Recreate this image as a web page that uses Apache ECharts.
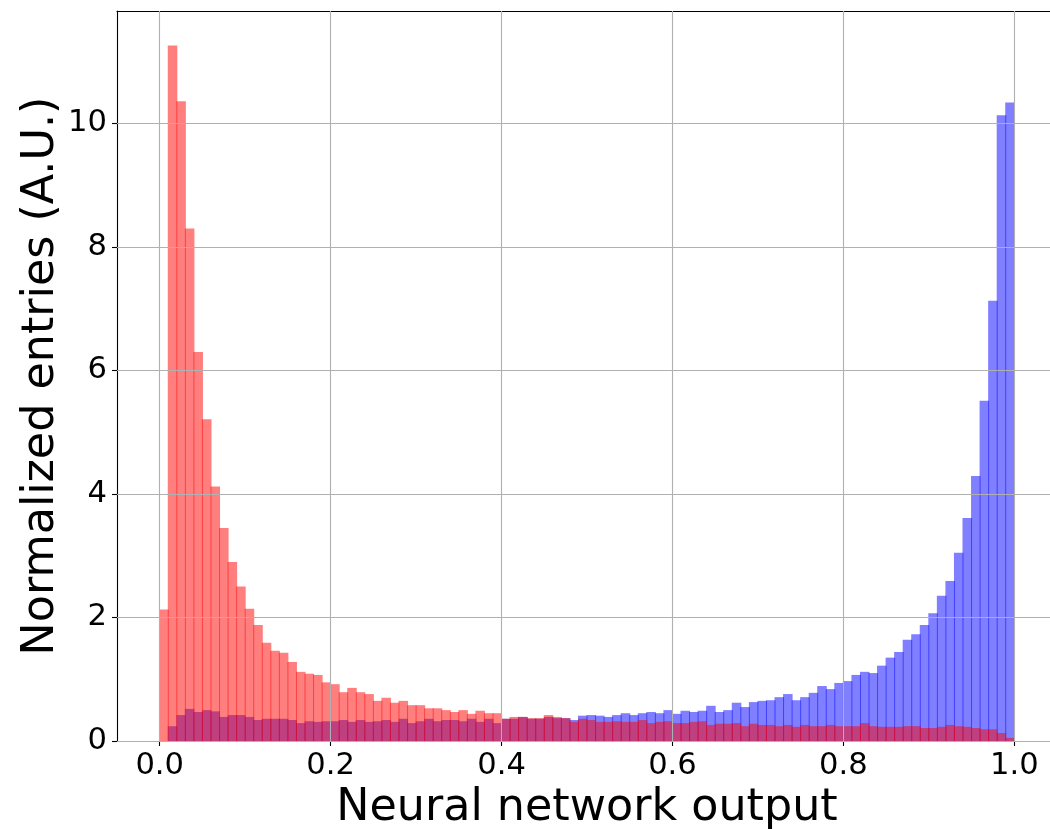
<!DOCTYPE html>
<html>
<head>
<meta charset="utf-8">
<script src="https://cdn.jsdelivr.net/npm/echarts@6/dist/echarts.min.js"></script>
<style>
html,body{margin:0;padding:0;background:#fff;}
#chart{width:1050px;height:829px;}
</style>
</head>
<body>
<div id="chart"></div>
<script>
// Histogram: 100 bins on [0, 1]
const binStart = 0.0;
const binWidth = 0.01;

// Red histogram (drawn on top)
const redValues = [
  2.13, 11.26, 10.36, 8.30, 6.30, 5.21, 4.12, 3.45, 2.90, 2.50,
  2.14, 1.88, 1.59, 1.46, 1.43, 1.28, 1.12, 1.09, 1.07, 0.95,
  0.92, 0.79, 0.86, 0.79, 0.76, 0.65, 0.70, 0.62, 0.65, 0.58,
  0.58, 0.53, 0.53, 0.50, 0.47, 0.50, 0.44, 0.49, 0.45, 0.45,
  0.36, 0.39, 0.39, 0.37, 0.37, 0.42, 0.39, 0.37, 0.31, 0.36,
  0.34, 0.31, 0.31, 0.32, 0.31, 0.31, 0.34, 0.29, 0.31, 0.32,
  0.29, 0.29, 0.31, 0.32, 0.26, 0.28, 0.28, 0.29, 0.24, 0.28,
  0.26, 0.26, 0.24, 0.26, 0.23, 0.26, 0.24, 0.24, 0.26, 0.24,
  0.24, 0.24, 0.29, 0.24, 0.23, 0.23, 0.23, 0.24, 0.24, 0.21,
  0.21, 0.23, 0.26, 0.24, 0.23, 0.21, 0.19, 0.19, 0.13, 0.05
];

// Blue histogram
const blueValues = [
  0.00, 0.24, 0.42, 0.52, 0.47, 0.50, 0.48, 0.39, 0.42, 0.42,
  0.39, 0.34, 0.36, 0.36, 0.36, 0.34, 0.29, 0.32, 0.31, 0.32,
  0.32, 0.34, 0.31, 0.34, 0.31, 0.32, 0.34, 0.31, 0.36, 0.29,
  0.32, 0.36, 0.32, 0.34, 0.34, 0.32, 0.36, 0.31, 0.36, 0.29,
  0.36, 0.36, 0.39, 0.36, 0.36, 0.39, 0.37, 0.37, 0.34, 0.41,
  0.42, 0.41, 0.39, 0.42, 0.45, 0.42, 0.45, 0.47, 0.45, 0.50,
  0.44, 0.49, 0.47, 0.49, 0.57, 0.47, 0.50, 0.62, 0.55, 0.63,
  0.65, 0.66, 0.71, 0.76, 0.66, 0.71, 0.78, 0.89, 0.84, 0.94,
  0.97, 1.07, 1.12, 1.10, 1.22, 1.35, 1.44, 1.64, 1.73, 1.88,
  2.07, 2.35, 2.59, 3.05, 3.61, 4.29, 5.51, 7.13, 10.13, 10.34
];

const xTicks = [0.0, 0.2, 0.4, 0.6, 0.8, 1.0];
const yTicks = [0, 2, 4, 6, 8, 10];
const xLabel = 'Neural network output';
const yLabel = 'Normalized entries (A.U.)';

function toBins(values) {
  return values.map((v, i) => {
    const lo = +(binStart + i * binWidth).toFixed(4);
    const hi = +(binStart + (i + 1) * binWidth).toFixed(4);
    return [lo, hi, v];
  });
}

function histRenderer(fill) {
  return function (params, api) {
    const lo = api.value(0), hi = api.value(1), v = api.value(2);
    if (!(v > 0)) return null;
    const p0 = api.coord([lo, 0]);
    const p1 = api.coord([hi, v]);
    return {
      type: 'rect',
      shape: { x: p0[0] - 0.5, y: p1[1], width: (p1[0] - p0[0]) + 1, height: p0[1] - p1[1] },
      style: { fill: fill }
    };
  };
}

const FONT = 'DejaVu Sans';
const chart = echarts.init(document.getElementById('chart'), null, { renderer: 'canvas' });

const gridLines = xTicks.map(v => ({ xAxis: v })).concat(yTicks.map(v => ({ yAxis: v })));

chart.setOption({
  animation: false,
  backgroundColor: '#ffffff',
  grid: { left: 117, top: 11, width: 940, height: 730, containLabel: false, outerBoundsMode: 'none' },
  graphic: [{
    type: 'text', x: 41.5, y: 376, rotation: Math.PI / 2, silent: true,
    style: { text: yLabel, fontFamily: FONT, fontSize: 44.4, fill: '#000', align: 'center', verticalAlign: 'middle' }
  }],
  xAxis: [{
    type: 'value', min: -0.05, max: 1.05, position: 'bottom',
    name: xLabel, nameLocation: 'middle', nameGap: 40,
    nameTextStyle: { fontFamily: FONT, fontSize: 44.4, color: '#000' },
    axisLine: { show: true, onZero: false, lineStyle: { color: '#000', width: 1.1 } },
    axisTick: { show: true, length: 5, inside: false, customValues: xTicks, lineStyle: { color: '#000', width: 1.1 } },
    axisLabel: { show: true, margin: 10, customValues: xTicks, fontFamily: FONT, fontSize: 30.6, color: '#000',
      formatter: v => Number(v).toFixed(1) },
    splitLine: { show: false }
  }, {
    type: 'value', min: -0.05, max: 1.05, position: 'top',
    axisLine: { show: true, onZero: false, lineStyle: { color: '#000', width: 1.1 } },
    axisTick: { show: false }, axisLabel: { show: false }, splitLine: { show: false }
  }],
  yAxis: {
    type: 'value', min: 0, max: 11.82,
    axisLine: { show: true, onZero: false, lineStyle: { color: '#000', width: 1.1 } },
    axisTick: { show: true, length: 5, inside: false, customValues: yTicks, lineStyle: { color: '#000', width: 1.1 } },
    axisLabel: { show: true, margin: 10, customValues: yTicks, fontFamily: FONT, fontSize: 30.6, color: '#000' },
    splitLine: { show: false }
  },
  series: [
    {
      name: 'blue', type: 'custom', xAxisIndex: 0, yAxisIndex: 0, z: 2,
      renderItem: histRenderer('rgba(0,0,255,0.5)'),
      encode: { x: [0, 1], y: 2 },
      data: toBins(blueValues)
    },
    {
      name: 'red', type: 'custom', xAxisIndex: 0, yAxisIndex: 0, z: 3,
      renderItem: histRenderer('rgba(255,0,0,0.5)'),
      encode: { x: [0, 1], y: 2 },
      data: toBins(redValues)
    },
    {
      name: 'grid', type: 'line', xAxisIndex: 0, yAxisIndex: 0, data: [], silent: true,
      markLine: {
        silent: true, symbol: ['none', 'none'], animation: false, z: 10,
        label: { show: false },
        lineStyle: { color: '#b0b0b0', width: 1.1, type: 'solid' },
        emphasis: { disabled: true },
        data: gridLines
      }
    }
  ]
});
</script>
</body>
</html>
